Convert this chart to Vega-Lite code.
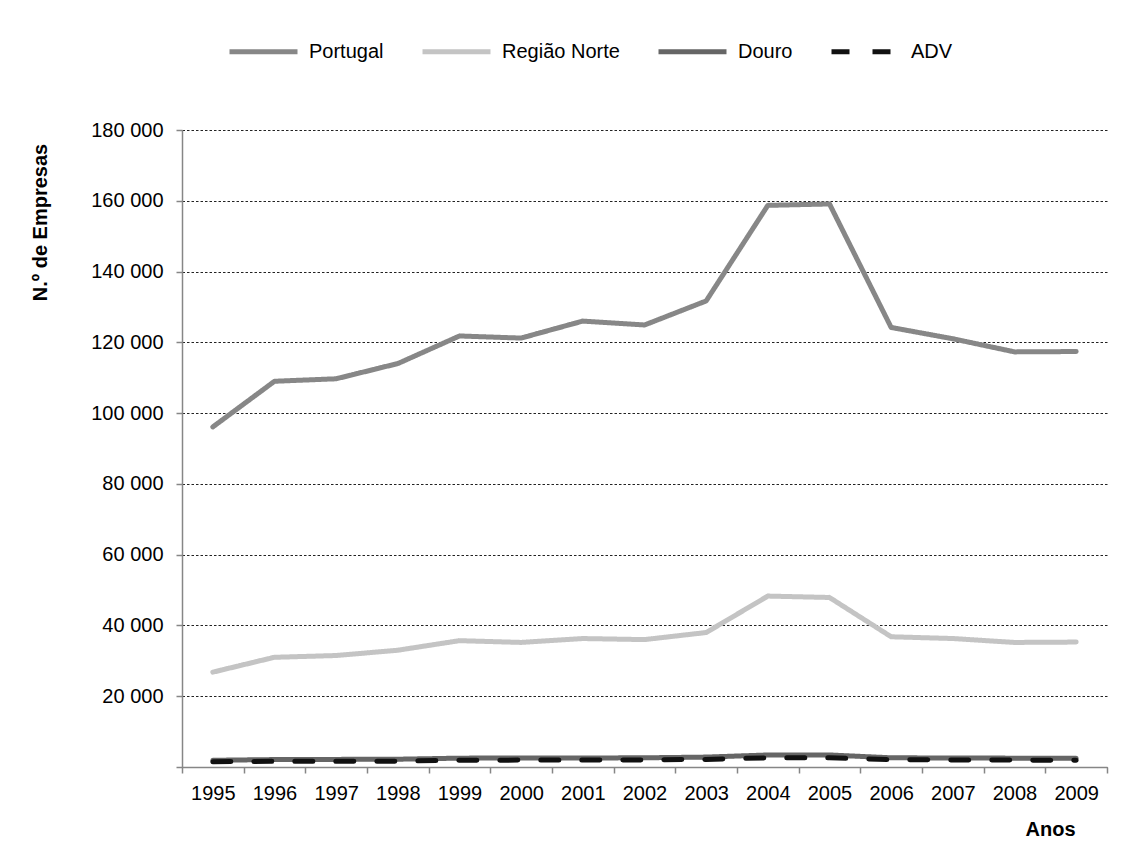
{
  "$schema": "https://vega.github.io/schema/vega-lite/v6.json",
  "width": 925,
  "height": 637,
  "autosize": {"type": "none"},
  "padding": {"left": 182, "top": 130, "right": 30, "bottom": 82},
  "background": "white",
  "config": {
    "font": "Liberation Sans",
    "view": {"stroke": null}
  },
  "data": {
    "values": [
      {"year": "1995", "series": "Portugal", "value": 96100},
      {"year": "1996", "series": "Portugal", "value": 109000},
      {"year": "1997", "series": "Portugal", "value": 109700},
      {"year": "1998", "series": "Portugal", "value": 114000},
      {"year": "1999", "series": "Portugal", "value": 121800},
      {"year": "2000", "series": "Portugal", "value": 121200},
      {"year": "2001", "series": "Portugal", "value": 126000},
      {"year": "2002", "series": "Portugal", "value": 124900},
      {"year": "2003", "series": "Portugal", "value": 131700},
      {"year": "2004", "series": "Portugal", "value": 158700},
      {"year": "2005", "series": "Portugal", "value": 159100},
      {"year": "2006", "series": "Portugal", "value": 124200},
      {"year": "2007", "series": "Portugal", "value": 121000},
      {"year": "2008", "series": "Portugal", "value": 117300},
      {"year": "2009", "series": "Portugal", "value": 117400},
      {"year": "1995", "series": "Região Norte", "value": 26800},
      {"year": "1996", "series": "Região Norte", "value": 31000},
      {"year": "1997", "series": "Região Norte", "value": 31500},
      {"year": "1998", "series": "Região Norte", "value": 33000},
      {"year": "1999", "series": "Região Norte", "value": 35700},
      {"year": "2000", "series": "Região Norte", "value": 35200},
      {"year": "2001", "series": "Região Norte", "value": 36300},
      {"year": "2002", "series": "Região Norte", "value": 36000},
      {"year": "2003", "series": "Região Norte", "value": 38000},
      {"year": "2004", "series": "Região Norte", "value": 48300},
      {"year": "2005", "series": "Região Norte", "value": 47900},
      {"year": "2006", "series": "Região Norte", "value": 36800},
      {"year": "2007", "series": "Região Norte", "value": 36300},
      {"year": "2008", "series": "Região Norte", "value": 35200},
      {"year": "2009", "series": "Região Norte", "value": 35300},
      {"year": "1995", "series": "Douro", "value": 1900},
      {"year": "1996", "series": "Douro", "value": 2100},
      {"year": "1997", "series": "Douro", "value": 2150},
      {"year": "1998", "series": "Douro", "value": 2200},
      {"year": "1999", "series": "Douro", "value": 2500},
      {"year": "2000", "series": "Douro", "value": 2550},
      {"year": "2001", "series": "Douro", "value": 2550},
      {"year": "2002", "series": "Douro", "value": 2600},
      {"year": "2003", "series": "Douro", "value": 2800},
      {"year": "2004", "series": "Douro", "value": 3400},
      {"year": "2005", "series": "Douro", "value": 3400},
      {"year": "2006", "series": "Douro", "value": 2600},
      {"year": "2007", "series": "Douro", "value": 2550},
      {"year": "2008", "series": "Douro", "value": 2500},
      {"year": "2009", "series": "Douro", "value": 2450},
      {"year": "1995", "series": "ADV", "value": 1500},
      {"year": "1996", "series": "ADV", "value": 1600},
      {"year": "1997", "series": "ADV", "value": 1600},
      {"year": "1998", "series": "ADV", "value": 1650},
      {"year": "1999", "series": "ADV", "value": 1900},
      {"year": "2000", "series": "ADV", "value": 1950},
      {"year": "2001", "series": "ADV", "value": 1950},
      {"year": "2002", "series": "ADV", "value": 2000},
      {"year": "2003", "series": "ADV", "value": 2150},
      {"year": "2004", "series": "ADV", "value": 2600},
      {"year": "2005", "series": "ADV", "value": 2600},
      {"year": "2006", "series": "ADV", "value": 2050},
      {"year": "2007", "series": "ADV", "value": 2000},
      {"year": "2008", "series": "ADV", "value": 1950},
      {"year": "2009", "series": "ADV", "value": 1900}
    ]
  },
  "mark": {"type": "line", "strokeWidth": 5, "strokeCap": "round", "strokeJoin": "round"},
  "encoding": {
    "x": {
      "field": "year",
      "type": "ordinal",
      "bandPosition": 0.5,
      "scale": {"type": "band", "paddingInner": 0, "paddingOuter": 0},
      "axis": {
        "tickBand": "extent",
        "labelAngle": 0,
        "grid": false,
        "domainColor": "#868686",
        "domainWidth": 1.5,
        "tickColor": "#868686",
        "tickWidth": 1.5,
        "tickSize": 6,
        "labelFontSize": 20,
        "labelColor": "#000000",
        "labelPadding": 10,
        "title": "Anos",
        "titleFontSize": 20,
        "titleFontWeight": "bold",
        "titleColor": "#000000",
        "titleX": 893,
        "titleY": 68,
        "titleAlign": "right",
        "titleBaseline": "alphabetic"
      }
    },
    "y": {
      "field": "value",
      "type": "quantitative",
      "scale": {"domain": [0, 180000], "nice": false},
      "axis": {
        "values": [0, 20000, 40000, 60000, 80000, 100000, 120000, 140000, 160000, 180000],
        "labelExpr": "datum.value == 0 ? '' : replace(format(datum.value, ','), ',', ' ')",
        "grid": true,
        "gridColor": "#222222",
        "gridDash": [2.5, 2],
        "gridWidth": 1,
        "domainColor": "#868686",
        "domainWidth": 1.5,
        "tickColor": "#868686",
        "tickWidth": 1.5,
        "tickSize": 6,
        "labelFontSize": 20,
        "labelColor": "#000000",
        "labelPadding": 13,
        "title": "N.º de Empresas",
        "titleFontSize": 20,
        "titleFontWeight": "bold",
        "titleColor": "#000000",
        "titleX": -142,
        "titleY": 92,
        "titleAlign": "center",
        "titleBaseline": "middle",
        "titleAngle": -90
      }
    },
    "color": {
      "field": "series",
      "type": "nominal",
      "scale": {
        "domain": ["Portugal", "Região Norte", "Douro", "ADV"],
        "range": ["#878787", "#c4c4c4", "#666666", "#111111"]
      },
      "legend": {
        "orient": "none",
        "direction": "horizontal",
        "legendX": 45,
        "legendY": -115,
        "title": null,
        "symbolType": "stroke",
        "symbolSize": 4624,
        "symbolStrokeWidth": 5,
        "labelFontSize": 20,
        "labelColor": "#000000",
        "labelOffset": 9,
        "columnPadding": 28
      }
    },
    "strokeDash": {
      "field": "series",
      "type": "nominal",
      "scale": {
        "domain": ["Portugal", "Região Norte", "Douro", "ADV"],
        "range": [[1, 0], [1, 0], [1, 0], [18, 23]]
      },
      "legend": null
    }
  }
}
